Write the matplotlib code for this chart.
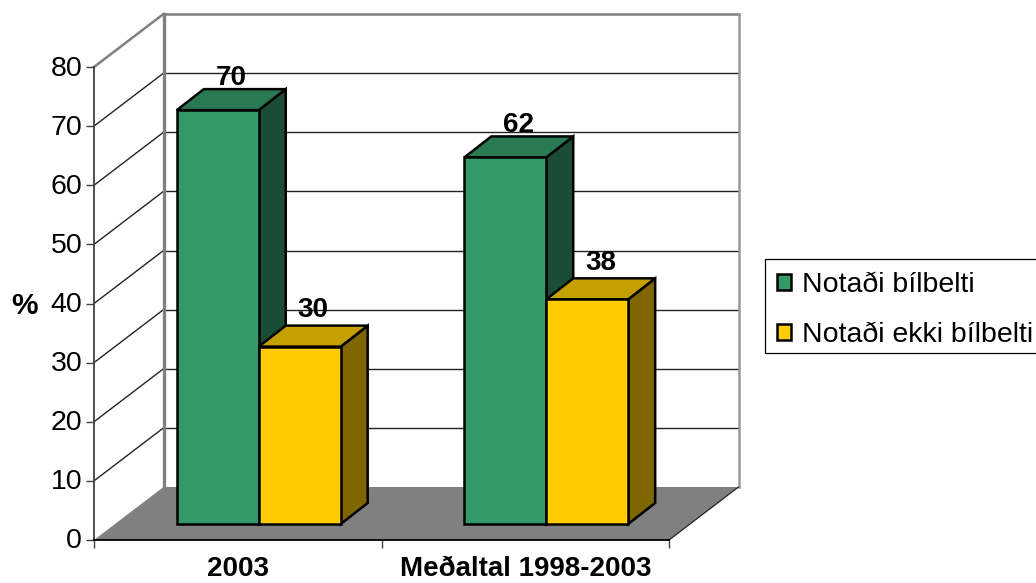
# -*- coding: utf-8 -*-

import numpy as np
import matplotlib
matplotlib.use("Agg")
import matplotlib.pyplot as plt
from matplotlib.patches import Polygon, Patch, Rectangle
from matplotlib.transforms import ScaledTranslation

plt.rcParams['font.family'] = ['Liberation Sans', 'DejaVu Sans']

categories = ["2003", "Meðaltal 1998-2003"]
series_names = ["Notaði bílbelti", "Notaði ekki bílbelti"]
notadi = [70, 62]
notadi_ekki = [30, 38]
yticks = [0, 10, 20, 30, 40, 50, 60, 70, 80]

colors = ["#339966", "#ffcc00"]
top_colors = ["#297a52", "#c4a000"]
side_colors = ["#1a4d33", "#806600"]

W, H = 1036, 583
fig = plt.figure(figsize=(W / 100, H / 100), dpi=100)
ax = fig.add_axes([94 / W, (H - 540) / H, 575 / W, 473 / H])
ax.set_xlim(0, 2)
ax.set_ylim(0, 80)

# depth of the box and of the bars, in data units
wall_dx, wall_dy = 69.5 / 287.5, 53 / 5.9125
start_dx, start_dy = 21 / 287.5, 16 / 5.9125
bar_dx, bar_dy = 27 / 287.5, 21 / 5.9125
bar_w = 0.285
gap = (1 - 2 * bar_w) / 2
label_shift = [(0, -0.2), (0, 0.5)]


def poly(pts, **kw):
    ax.add_patch(Polygon(pts, closed=True, clip_on=False, **kw))


# floor
poly([(0, 0), (2, 0), (2 + wall_dx, wall_dy), (wall_dx, wall_dy)],
     facecolor="#808080", edgecolor="none", zorder=1)

# walls and gridlines
for v in yticks[1:]:
    c = "#808080" if v == 80 else "#222222"
    lw = 1.8 if v == 80 else 1.0
    ax.plot([0, wall_dx], [v, v + wall_dy], color=c, lw=lw, clip_on=False, zorder=1)
    ax.plot([wall_dx, 2 + wall_dx], [v + wall_dy] * 2, color=c, lw=lw, clip_on=False, zorder=1)
ax.plot([wall_dx, wall_dx], [wall_dy, 80 + wall_dy], color="#808080", lw=2.4, clip_on=False, zorder=1.5)
ax.plot([2 + wall_dx] * 2, [wall_dy, 80 + wall_dy], color="#999999", lw=1.8, clip_on=False, zorder=1.5)
ax.plot([2, 2 + wall_dx], [0, wall_dy], color="#222222", lw=0.9, clip_on=False, zorder=1.5)


def bar3d(x, v, i):
    x0 = x + start_dx
    x1 = x0 + bar_w
    y0 = start_dy
    y1 = start_dy + v
    kw = dict(edgecolor="black", lw=1.8, joinstyle="miter", zorder=2 + i)
    poly([(x1, y0), (x1 + bar_dx, y0 + bar_dy), (x1 + bar_dx, y1 + bar_dy), (x1, y1)],
         facecolor=side_colors[i], **kw)
    poly([(x0, y1), (x1, y1), (x1 + bar_dx, y1 + bar_dy), (x0 + bar_dx, y1 + bar_dy)],
         facecolor=top_colors[i], **kw)
    poly([(x0, y0), (x1, y0), (x1, y1), (x0, y1)], facecolor=colors[i], **kw)
    ax.text((x0 + x1) / 2 + bar_dx / 2 + label_shift[i][0], y1 + bar_dy - 0.1 + label_shift[i][1], str(v),
            ha="center", va="bottom", fontsize=20, fontweight="bold", color="black", zorder=6)


for k in range(len(categories)):
    bar3d(k + gap, notadi[k], 0)
    bar3d(k + gap + bar_w, notadi_ekki[k], 1)

# axes
for s in ["top", "right"]:
    ax.spines[s].set_visible(False)
ax.spines["left"].set_color("#404040")
ax.spines["left"].set_linewidth(1.3)
ax.spines["bottom"].set_color("black")
ax.spines["bottom"].set_linewidth(1.3)
ax.patch.set_alpha(0)

ax.set_yticks(yticks)
ax.tick_params(axis="y", length=5.5, width=1, color="#404040", labelsize=20.5, pad=3)
up = ScaledTranslation(0, 1.5 / 100, fig.dpi_scale_trans)
for t in ax.get_yticklabels():
    t.set_transform(t.get_transform() + up)
ax.set_xticks([0, 1, 2])
ax.set_xticklabels([])
ax.tick_params(axis="x", which="major", length=5.5, width=1, color="#404040")
ax.set_xticks([0.5, 1.5], minor=True)
ax.set_xticklabels(categories, minor=True, fontsize=20, fontweight="bold")
ax.tick_params(axis="x", which="minor", length=0, pad=11.5)

fig.text(24 / W, 1 - 306 / H, "%", fontsize=21.5, fontweight="bold", ha="center", va="center")

# legend box runs off the right edge of the picture
fig.add_artist(Rectangle((765 / W, 1 - 353 / H), 300 / W, 94 / H, transform=fig.transFigure,
                         facecolor="white", edgecolor="black", lw=0.9))
handles = [Patch(facecolor=colors[i], edgecolor="black", lw=1.8) for i in range(2)]
leg = fig.legend(handles, series_names, loc="lower left",
                 bbox_to_anchor=(767 / W, 1 - 358 / H), bbox_transform=fig.transFigure,
                 fontsize=20.5, frameon=False, borderaxespad=0, borderpad=0.36, labelspacing=0.82,
                 handlelength=0.5, handleheight=0.5, handletextpad=0.38)

fig.savefig("out.png", dpi=100)
